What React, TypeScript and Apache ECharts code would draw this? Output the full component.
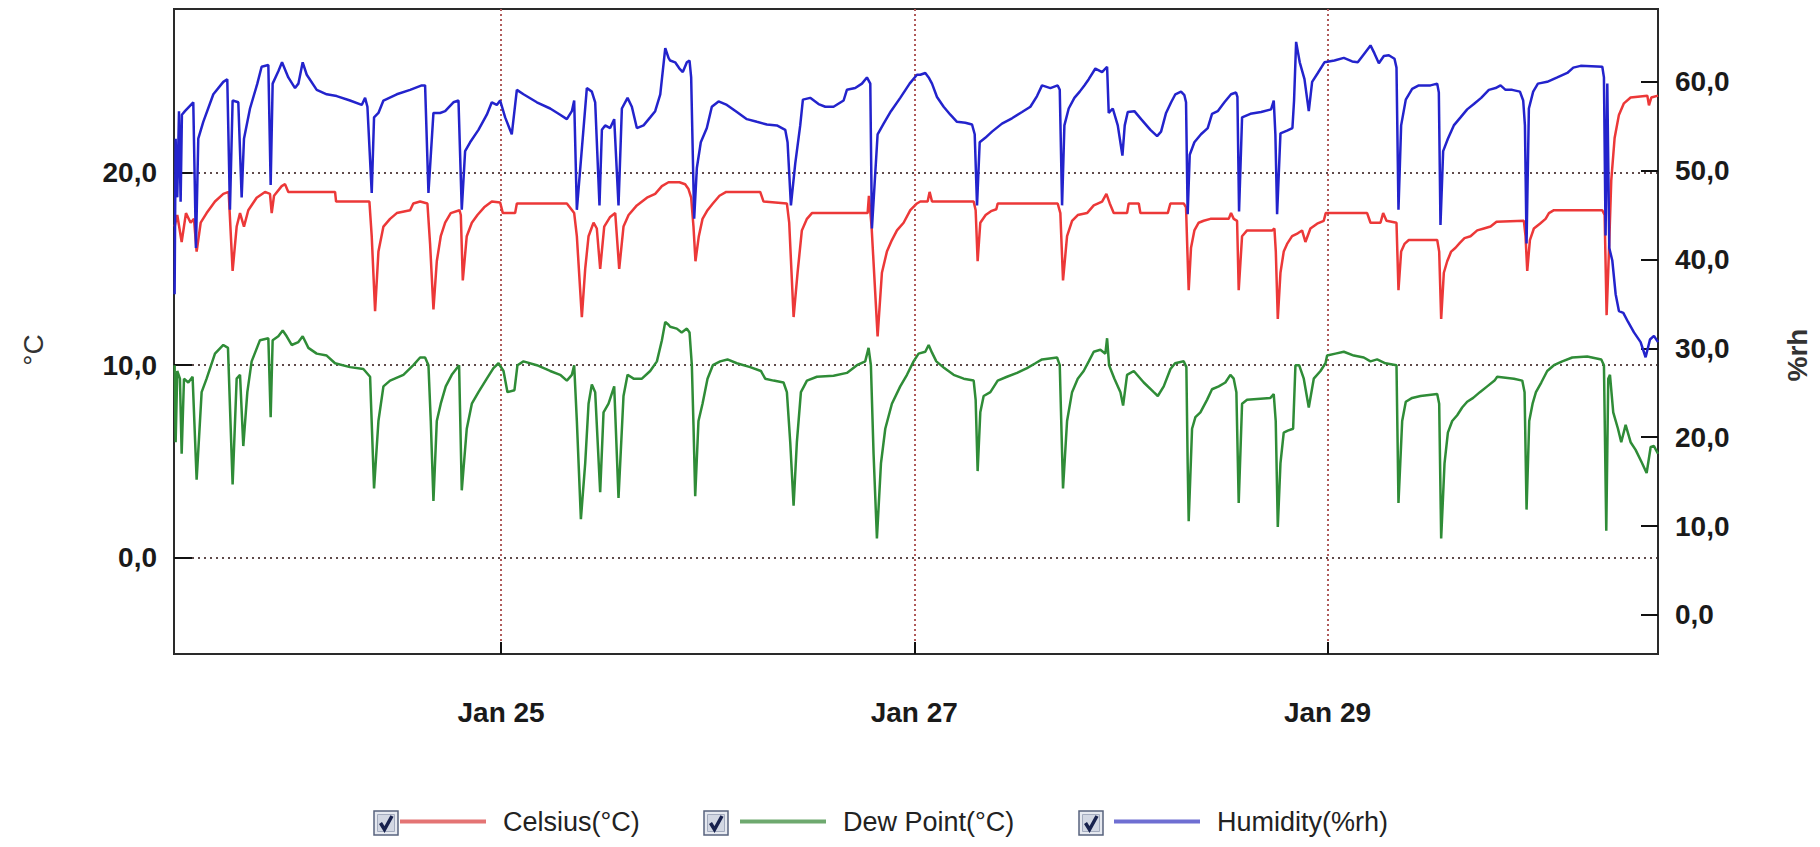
import React, { useEffect, useRef } from 'react';
import * as echarts from 'echarts';

// x values are hours since Jan 23 00:00
const X_MIN = 10.0;
const X_MAX = 182.4;
const xTickHours = [48, 96, 144];
const xTickLabels = ['Jan 25', 'Jan 27', 'Jan 29'];
const tempTicks = [0, 10, 20];
const humidityTicks = [0, 10, 20, 30, 40, 50, 60];
const seriesNames = ['Celsius(°C)', 'Dew Point(°C)', 'Humidity(%rh)'];

const celsius: [number, number][] = [
  [10.07,17.2],[10.38,17.8],[10.89,16.4],[11.39,17.9],[11.93,17.4],[12.32,17.6],[12.63,15.9],[13.1,17.4],[13.79,17.9],[14.76,18.5],[15.73,18.9],[16.35,19.0],[16.81,14.9],[17.28,17.2],[17.67,17.9],[18.13,17.2],[18.63,18.05],[19.6,18.7],[20.57,19.0],[21.15,18.9],[21.35,17.9],[21.62,18.8],[22.51,19.3],[22.9,19.4],[23.28,19.0],[28.71,19.0],[28.83,18.5],[32.7,18.5],[32.97,16.7],[33.36,12.8],[33.75,15.9],[34.33,17.2],[35.1,17.6],[35.88,17.9],[37.43,18.05],[37.8,18.4],[38.59,18.5],
  [39.44,18.4],[39.75,16.3],[40.14,12.9],[40.53,15.4],[40.99,16.7],[41.5,17.4],[42.15,17.9],[43.16,18.05],[43.32,17.8],[43.55,14.4],[44.01,16.7],[44.6,17.4],[45.25,17.8],[46.03,18.2],[46.92,18.5],[47.89,18.45],[48.2,17.9],[49.63,17.9],[49.83,18.4],[55.64,18.4],[56.49,17.9],[56.8,16.7],[57.38,12.5],[57.77,15.0],[58.16,16.7],[58.74,17.4],[59.12,17.1],[59.51,15.0],[59.98,17.2],[60.67,17.7],[61.26,17.9],[61.72,15.0],[62.22,17.2],[62.81,17.8],[63.77,18.3],[64.94,18.7],[65.9,18.9],[66.68,19.3],[67.45,19.5],
  [68.72,19.5],[69.38,19.4],[69.77,19.15],[70.08,18.7],[70.35,17.2],[70.58,15.4],[70.97,16.7],[71.4,17.6],[71.98,18.05],[72.6,18.4],[73.37,18.8],[74.15,19.0],[78.1,19.0],[78.49,18.5],[81.2,18.4],[81.47,17.4],[81.98,12.5],[82.44,14.8],[82.94,17.0],[83.53,17.6],[84.11,17.9],[90.58,17.9],[90.73,18.8],[91.04,17.2],[91.74,11.5],[92.24,14.8],[92.82,15.9],[93.4,16.5],[93.99,17.0],[94.76,17.4],[95.54,18.05],[96.31,18.4],
  [96.7,18.5],[97.55,18.5],[97.78,19.0],[98.06,18.5],[102.9,18.5],[103.13,18.05],[103.36,15.4],[103.67,17.4],[104.29,17.8],[104.91,18.0],[105.53,18.1],[105.69,18.4],[112.66,18.4],[112.97,17.9],[113.28,14.4],[113.75,16.7],[114.33,17.5],[114.99,17.8],[116.07,17.9],[116.85,18.3],[117.82,18.5],[118.32,18.9],[118.71,18.4],[119.17,17.9],[120.72,17.9],[120.91,18.4],[122.08,18.4],[122.27,17.9],[125.45,17.9],[125.75,18.4],
  [127.3,18.4],[127.57,18.2],[127.73,15.9],[127.88,13.9],[128.15,16.1],[128.54,17.0],[129.04,17.4],[129.62,17.5],[130.4,17.6],[132.53,17.6],[132.8,17.9],[133.11,17.6],[133.5,17.5],[133.69,13.9],[134.08,16.7],[134.66,17.0],[137.57,17.0],[137.84,17.1],[138.0,15.9],[138.23,12.4],[138.54,14.8],[138.92,15.9],[139.31,16.3],[139.89,16.7],[140.55,16.85],[141.05,17.0],[141.44,16.4],[142.02,17.1],[142.8,17.35],[143.57,17.5],[143.8,17.9],[148.61,17.9],[149.0,17.4],[150.16,17.4],[150.47,17.9],[150.86,17.5],[152.02,17.4],[152.25,13.9],[152.56,15.9],[152.95,16.3],[153.45,16.5],
  [154.81,16.5],[156.75,16.5],[156.98,15.9],[157.21,12.4],[157.52,14.8],[157.91,15.4],[158.37,15.9],[158.88,16.1],[159.38,16.35],[159.92,16.6],[160.62,16.7],[161.4,17.0],[162.17,17.1],[162.95,17.2],[163.64,17.45],[166.82,17.5],[167.01,16.7],[167.21,14.9],[167.52,16.5],[167.98,17.1],[168.68,17.35],[169.34,17.6],[169.73,17.9],[170.31,18.05],[175.93,18.05],[176.2,17.8],[176.43,12.6],[176.7,15.9],[176.97,19.6],[177.36,21.8],[177.86,23.0],[178.44,23.6],[179.22,23.9],[181.16,24.0],[181.35,23.5],[181.62,23.9],[182.4,24.0],
];

const dewPoint: [number, number][] = [
  [10.07,10.0],[10.19,6.0],[10.38,9.7],[10.69,9.3],[10.89,5.4],[11.16,9.3],[11.66,9.1],[12.16,9.4],[12.63,4.05],[13.21,8.6],[13.79,9.3],[14.76,10.6],[15.73,11.05],[16.27,10.9],[16.81,3.8],[17.28,9.3],[17.67,9.5],[18.05,5.8],[18.52,8.6],[19.02,10.2],[19.99,11.3],[20.96,11.4],[21.23,7.3],[21.46,11.3],[22.12,11.5],[22.63,11.8],[23.09,11.5],[23.67,11.05],[24.45,11.2],[24.95,11.5],[25.61,10.9],[26.58,10.6],[27.74,10.5],[28.71,10.1],[30.45,9.9],[32.0,9.8],[32.78,9.4],[33.24,3.6],[33.75,7.1],[34.33,8.9],[35.1,9.2],[36.65,9.5],[37.81,10.0],[38.59,10.4],
  [39.17,10.4],[39.56,10.0],[39.83,7.1],[40.14,2.95],[40.53,7.1],[40.99,8.0],[41.57,8.9],[42.27,9.5],[43.12,10.0],[43.43,3.5],[44.01,6.7],[44.6,8.0],[45.37,8.6],[46.34,9.3],[47.11,9.85],[47.7,10.1],[48.28,9.7],[48.74,8.6],[49.55,8.7],[49.9,10.0],[50.6,10.2],[52.15,10.0],[53.7,9.7],[54.86,9.5],[55.64,9.2],[56.22,9.5],[56.49,10.0],[56.8,7.1],[57.27,2.0],[57.77,4.9],[58.16,8.0],[58.54,9.0],[58.93,8.6],[59.51,3.4],[59.9,7.55],[60.48,8.0],[61.14,8.9],[61.64,3.1],[62.22,8.4],[62.69,9.5],[63.39,9.3],[64.36,9.3],[65.32,9.7],[66.1,10.2],[66.68,11.3],[67.07,12.25],[67.45,12.1],
  [67.64,12.0],[68.41,11.9],[68.98,11.7],[69.58,11.9],[69.89,11.7],[70.16,10.0],[70.35,6.9],[70.55,3.2],[70.93,7.1],[71.4,8.0],[71.98,9.3],[72.6,10.0],[73.45,10.2],[74.3,10.3],[75.39,10.1],[76.94,9.9],[78.18,9.7],[78.68,9.3],[79.65,9.2],[80.81,9.1],[81.2,8.6],[81.59,6.0],[81.98,2.7],[82.36,6.0],[82.83,8.6],[83.53,9.2],[84.69,9.4],[86.62,9.45],[88.17,9.6],[89.34,10.0],[90.3,10.2],[90.69,10.9],[90.96,10.0],[91.27,5.4],[91.66,1.0],[92.13,4.9],[92.63,6.7],[93.4,8.0],[94.37,8.9],[95.15,9.5],[95.92,10.2],[96.5,10.6],
  [97.28,10.7],[97.67,11.05],[98.06,10.65],[98.56,10.2],[99.49,9.85],[100.57,9.5],[101.74,9.3],[102.9,9.2],[103.13,8.2],[103.36,4.5],[103.67,7.55],[104.06,8.4],[104.84,8.6],[105.69,9.2],[106.77,9.4],[107.94,9.6],[109.1,9.85],[110.07,10.1],[110.84,10.3],[112.59,10.4],[112.9,10.0],[113.28,3.6],[113.75,7.1],[114.33,8.6],[114.99,9.3],[115.68,9.7],[116.27,10.2],[116.85,10.7],[117.62,10.8],[118.2,10.6],[118.4,11.4],[118.63,10.0],[119.25,9.3],[119.95,8.6],[120.26,7.9],[120.72,9.5],[121.5,9.7],[122.66,9.1],[123.82,8.6],[124.29,8.4],[124.98,8.9],[125.76,9.8],[126.3,10.1],
  [127.3,10.2],[127.61,9.9],[127.76,4.9],[127.88,1.9],[128.27,6.7],[128.66,7.3],[129.24,7.55],[130.01,8.2],[130.59,8.75],[131.37,8.9],[132.14,9.1],[132.72,9.5],[133.11,9.3],[133.42,8.6],[133.69,2.85],[134.08,8.0],[134.66,8.2],[137.37,8.3],[137.76,8.5],[137.99,7.1],[138.23,1.6],[138.54,4.9],[138.92,6.5],[139.39,6.6],[140.01,6.7],[140.28,10.0],[140.71,10.0],[141.25,9.3],[141.83,7.8],[142.41,9.3],[143.19,9.7],[143.77,10.1],[143.96,10.5],[144.93,10.6],[145.9,10.7],[147.06,10.5],[148.22,10.4],[149.0,10.2],[149.77,10.3],[150.74,10.1],[152.02,10.0],[152.25,2.85],[152.68,7.1],[153.1,8.1],[153.84,8.3],
  [154.81,8.4],[156.75,8.5],[156.98,8.0],[157.21,1.0],[157.6,4.9],[157.99,6.5],[158.49,7.1],[159.07,7.4],[159.65,7.8],[160.23,8.1],[160.93,8.3],[161.71,8.6],[162.56,8.9],[163.41,9.2],[163.72,9.4],[165.66,9.3],[166.63,9.2],[166.9,8.6],[167.13,2.5],[167.44,7.1],[167.83,8.0],[168.22,8.6],[168.84,9.1],[169.53,9.7],[170.31,10.0],[171.28,10.2],[172.44,10.4],[174.18,10.45],[175.81,10.3],[176.12,10.0],[176.39,1.4],[176.62,9.3],[176.82,9.5],[177.2,7.55],[177.75,6.7],[178.13,6.0],[178.64,6.9],[179.22,6.0],[179.8,5.6],[180.46,5.0],[181.08,4.4],[181.55,5.75],[181.93,5.8],[182.4,5.4],
];

const humidity: [number, number][] = [
  [10.07,36.1],[10.19,53.6],[10.38,47.0],[10.58,56.7],[10.77,46.5],[10.92,56.3],[11.27,56.7],[12.24,57.7],[12.55,41.3],[12.82,53.6],[13.4,55.5],[14.57,58.6],[15.73,60.0],[16.19,60.3],[16.5,45.6],[16.81,57.9],[17.47,57.7],[17.86,47.0],[18.13,53.6],[18.83,57.0],[19.68,59.8],[20.18,61.7],[20.96,61.9],[21.23,48.4],[21.46,59.8],[22.12,61.2],[22.55,62.2],[23.28,60.5],[24.06,59.3],[24.45,59.8],[24.95,62.2],[25.42,60.8],[26.58,59.1],[27.74,58.6],[28.9,58.4],[30.45,57.9],[31.81,57.4],[32.2,58.2],[32.47,57.2],[32.97,47.5],[33.24,56.0],[33.75,56.5],[34.33,57.9],[35.88,58.6],[37.43,59.1],[38.78,59.6],
  [39.17,59.6],[39.56,47.5],[40.14,56.5],[40.91,56.5],[41.5,56.7],[42.46,57.7],[43.05,57.9],[43.43,45.6],[43.82,52.2],[44.4,53.2],[45.37,54.6],[46.34,56.3],[46.92,57.7],[47.5,57.4],[47.89,57.9],[48.47,56.0],[49.24,54.1],[49.83,59.1],[50.6,58.6],[52.15,57.7],[53.7,57.0],[54.86,56.3],[55.64,55.8],[56.22,56.7],[56.49,57.9],[56.8,45.6],[57.96,59.3],[58.54,58.9],[58.93,57.7],[59.43,46.1],[59.71,54.6],[60.09,55.1],[60.67,54.8],[61.14,55.8],[61.64,46.1],[62.03,57.0],[62.69,58.2],[63.19,57.2],[63.77,54.8],[64.55,55.1],[65.32,56.0],[65.9,56.7],[66.49,58.6],[67.07,63.8],[67.45,62.7],
  [67.64,62.4],[68.22,62.2],[68.72,61.5],[69.11,61.1],[69.58,62.2],[69.89,62.4],[70.08,60.5],[70.43,44.6],[70.74,50.3],[71.2,53.2],[71.9,54.8],[72.48,57.2],[73.26,57.8],[74.23,57.4],[75.39,56.6],[76.55,55.8],[77.71,55.5],[78.88,55.2],[80.04,55.1],[81.01,54.6],[81.28,53.2],[81.67,46.1],[82.17,50.8],[82.75,55.1],[83.06,58.0],[83.91,58.2],[84.88,57.5],[85.66,57.2],[86.62,57.2],[87.79,57.9],[88.17,59.1],[89.14,59.3],[89.92,59.8],[90.5,60.5],[90.89,59.8],[91.08,43.5],[91.74,54.1],[92.44,55.3],[93.29,56.7],[94.37,58.2],[95.46,59.8],[96.31,60.8],
  [96.7,60.8],[97.28,61.0],[97.67,60.5],[98.06,59.8],[98.64,58.3],[99.41,57.2],[100.19,56.3],[100.96,55.5],[101.93,55.4],[102.71,55.2],[103.02,54.1],[103.29,46.1],[103.6,53.2],[104.25,53.7],[105.03,54.4],[106.19,55.3],[107.35,55.9],[108.52,56.6],[109.49,57.2],[110.26,58.4],[110.84,59.6],[111.81,59.3],[112.66,59.6],[112.9,59.1],[113.17,46.1],[113.44,55.1],[113.94,57.0],[114.6,58.2],[115.22,58.9],[115.76,59.6],[116.27,60.3],[117.04,61.5],[117.82,61.1],[118.4,61.7],[118.59,56.5],[119.06,57.0],[119.64,55.1],[120.18,51.7],[120.45,55.1],[120.8,56.6],[121.57,56.7],[122.35,55.8],[123.43,54.6],[124.21,53.9],[124.67,54.4],[125.25,56.5],[125.84,57.7],
  [126.33,58.6],[126.99,58.9],[127.38,58.5],[127.57,57.7],[127.76,45.1],[128.0,51.8],[128.54,53.2],[129.31,54.1],[130.09,54.8],[130.59,56.4],[131.25,56.7],[132.03,57.7],[132.8,58.6],[133.38,58.8],[133.54,58.3],[133.73,45.4],[134.08,56.0],[135.05,56.4],[136.29,56.6],[137.45,56.9],[137.76,57.9],[137.95,54.1],[138.15,45.1],[138.54,54.2],[139.31,54.5],[139.93,54.8],[140.12,57.9],[140.36,64.5],[140.78,62.2],[141.33,60.3],[141.83,56.7],[142.22,60.0],[142.88,61.0],[143.65,62.2],[144.81,62.4],[145.9,62.7],[146.87,62.3],[147.52,62.2],[148.3,63.2],[149.0,64.1],[149.46,63.2],[149.97,62.1],[150.55,62.9],[151.13,63.0],[151.79,62.6],[152.02,61.6],[152.25,45.6],[152.56,55.1],[153.1,58.0],[153.84,59.2],[154.61,59.6],
  [155.97,59.6],[156.75,59.8],[156.94,58.8],[157.13,43.9],[157.44,52.2],[157.99,53.6],[158.68,55.1],[159.46,56.0],[160.23,56.9],[161.01,57.5],[161.86,58.2],[162.75,59.1],[163.53,59.3],[164.11,59.6],[164.69,59.1],[165.46,59.1],[166.36,58.9],[166.74,57.9],[166.94,55.1],[167.13,41.8],[167.4,57.0],[167.9,58.9],[168.45,59.8],[169.53,60.0],[170.7,60.5],[171.86,61.0],[172.56,61.6],[173.41,61.8],[175.93,61.7],[176.12,60.5],[176.31,42.7],[176.51,59.8],[176.74,41.3],[177.09,39.9],[177.48,36.1],[177.86,34.2],[178.37,34.0],[178.91,33.0],[179.61,31.8],[180.38,30.7],[180.96,29.0],[181.47,31.0],[181.93,31.4],[182.4,30.7],
];

const FONT = "'Liberation Sans', Arial, Helvetica, sans-serif";
const RED = '#ec3838';
const GREEN = '#2f8c37';
const BLUE = '#2323cc';
const AXIS_COLOR = '#2a2a2a';

const fmtComma = (v: number) => v.toFixed(1).replace('.', ',');

function buildOption() {
  const legendLefts = [400, 740, 1114];
  const legendColors = ['#e47474', '#6ea96f', '#6f6fd2'];
  const checkboxLefts = [374, 704, 1079];
  const checkbox = (x: number) => ({
    type: 'group',
    x,
    y: 811,
    silent: true,
    children: [
      { type: 'rect', shape: { x: 0, y: 0, width: 24, height: 24 }, style: { fill: '#e6e9f0', stroke: '#58637d', lineWidth: 1.5 } },
      { type: 'rect', shape: { x: 3.5, y: 3.5, width: 17, height: 17 }, style: { fill: '#d2d7e3', stroke: '#a3abbe', lineWidth: 1 } },
      { type: 'polyline', shape: { points: [[6.5, 12], [10.5, 18.5], [18, 5]] }, style: { stroke: '#18224e', lineWidth: 3.5, fill: null } },
    ],
  });
  return {
    animation: false,
    backgroundColor: '#ffffff',
    grid: {
      left: 174,
      right: 162,
      top: 9,
      bottom: 193,
      show: true,
      borderColor: AXIS_COLOR,
      borderWidth: 2,
      backgroundColor: 'transparent',
    },
    legend: seriesNames.map((name, i) => ({
      data: [{ name, itemStyle: { color: legendColors[i] } }],
      left: legendLefts[i],
      top: 808,
      icon: 'rect',
      itemWidth: 86,
      itemHeight: 4,
      selectedMode: false,
      padding: 0,
      textStyle: { fontSize: 27, color: '#222', fontFamily: FONT, padding: [0, 0, 0, 12] },
    })),
    xAxis: {
      type: 'value',
      min: X_MIN,
      max: X_MAX,
      axisLine: { show: true, onZero: false, lineStyle: { color: AXIS_COLOR, width: 2 } },
      axisTick: { show: true, inside: true, length: 12, customValues: xTickHours, lineStyle: { color: '#111', width: 2 } },
      axisLabel: {
        customValues: xTickHours,
        formatter: (v: number) => xTickLabels[xTickHours.indexOf(v)] ?? '',
        margin: 44,
        fontSize: 28,
        fontWeight: 'bold',
        color: '#1a1a1a',
        fontFamily: FONT,
      },
      splitLine: { show: true, lineStyle: { color: '#b05a5a', type: [2, 3], width: 2 } },
    },
    yAxis: [
      {
        type: 'value',
        min: -5,
        max: 28.5,
        position: 'left',
        axisLine: { show: true, onZero: false, lineStyle: { color: AXIS_COLOR, width: 2 } },
        axisTick: { show: true, inside: true, length: 18, customValues: tempTicks, lineStyle: { color: '#111', width: 2 } },
        axisLabel: {
          customValues: tempTicks,
          formatter: fmtComma,
          margin: 17,
          fontSize: 28,
          fontWeight: 'bold',
          color: '#1a1a1a',
          fontFamily: FONT,
        },
        splitLine: { show: true, lineStyle: { color: '#5e4a4a', type: [2, 4], width: 2 } },
      },
      {
        type: 'value',
        min: -4.4,
        max: 68.2,
        position: 'right',
        axisLine: { show: true, onZero: false, lineStyle: { color: AXIS_COLOR, width: 2 } },
        axisTick: { show: true, inside: true, length: 17, customValues: humidityTicks, lineStyle: { color: '#111', width: 2 } },
        axisLabel: {
          customValues: humidityTicks,
          formatter: fmtComma,
          margin: 17,
          fontSize: 28,
          fontWeight: 'bold',
          color: '#1a1a1a',
          fontFamily: FONT,
        },
        splitLine: { show: false },
      },
    ],
    graphic: [
      {
        type: 'text',
        x: 33,
        y: 350,
        rotation: Math.PI / 2,
        silent: true,
        style: { text: '°C', fontSize: 28, fontFamily: FONT, fill: '#333', align: 'center', verticalAlign: 'middle' },
      },
      {
        type: 'text',
        x: 1797,
        y: 355,
        rotation: Math.PI / 2,
        silent: true,
        style: { text: '%rh', fontSize: 28, fontWeight: 'bold', fontFamily: FONT, fill: '#333', align: 'center', verticalAlign: 'middle' },
      },
      ...checkboxLefts.map(checkbox),
    ],
    series: [
      {
        name: seriesNames[0], type: 'line', yAxisIndex: 0, data: celsius, showSymbol: false, symbol: 'none',
        color: RED, lineStyle: { color: RED, width: 2.5 }, silent: true,
      },
      {
        name: seriesNames[1], type: 'line', yAxisIndex: 0, data: dewPoint, showSymbol: false, symbol: 'none',
        color: GREEN, lineStyle: { color: GREEN, width: 2.5 }, silent: true,
      },
      {
        name: seriesNames[2], type: 'line', yAxisIndex: 1, data: humidity, showSymbol: false, symbol: 'none',
        color: BLUE, lineStyle: { color: BLUE, width: 2.5 }, silent: true,
      },
    ],
  };
}

export default function App() {
  const ref = useRef<HTMLDivElement>(null);
  useEffect(() => {
    if (!ref.current) return;
    const chart = echarts.init(ref.current, null, { renderer: 'svg' });
    chart.setOption(buildOption() as any);
    return () => chart.dispose();
  }, []);
  return (
    <div
      ref={ref}
      style={{ position: 'fixed', left: 0, top: 0, width: 1820, height: 847, background: '#fff' }}
    />
  );
}
